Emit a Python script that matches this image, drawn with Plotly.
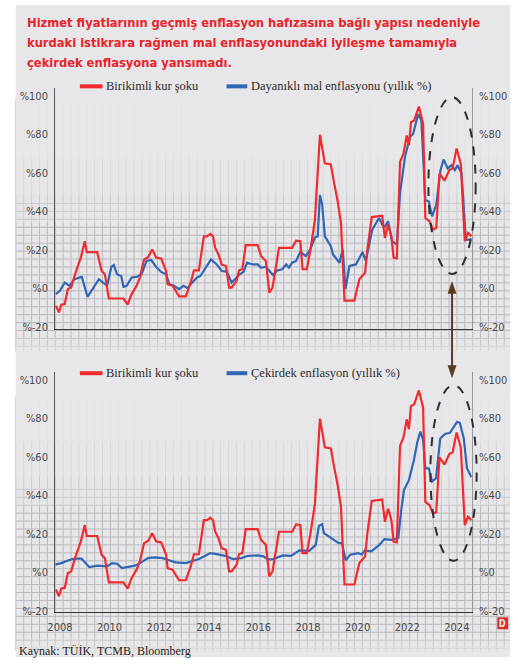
import plotly.graph_objects as go

# Birikimli kur şoku (yıllık %), iki panelde de aynı seri
red_x = [2007.83, 2007.96, 2008.05, 2008.19, 2008.32, 2008.45, 2008.65, 2008.84, 2009.0, 2009.08,
         2009.5, 2009.68, 2009.81, 2009.97, 2010.56, 2010.73, 2010.89, 2011.09, 2011.22, 2011.39,
         2011.55, 2011.72, 2011.88, 2012.08, 2012.28, 2012.34, 2012.54, 2012.8, 2013.07, 2013.27,
         2013.4, 2013.6, 2013.8, 2013.93, 2014.06, 2014.17, 2014.26, 2014.39, 2014.52, 2014.69,
         2014.82, 2014.92, 2015.12, 2015.22, 2015.35, 2015.49, 2015.97, 2016.11, 2016.3, 2016.44,
         2016.57, 2016.83, 2017.36, 2017.52, 2017.69, 2017.78, 2017.95, 2018.09, 2018.28, 2018.48,
         2018.68, 2018.92, 2019.05, 2019.2, 2019.33, 2019.47, 2019.87, 2020.07, 2020.3, 2020.4,
         2020.57, 2020.99, 2021.1, 2021.23, 2021.36, 2021.45, 2021.58, 2021.71, 2021.85, 2021.98,
         2022.07, 2022.15, 2022.28, 2022.47, 2022.64, 2022.73, 2022.9, 2023.04, 2023.17, 2023.3,
         2023.5, 2023.7, 2023.83, 2023.99, 2024.16, 2024.32, 2024.45, 2024.6]
red_y = [-8.9, -12.4, -8.4, -8.1, -0.3, 0.5, 9.1, 16, 24.6, 18.9,
         18.9, 9.1, 7.4, -5.2, -5.2, -8.4, -2.9, 1.4, 5.7, 15.1,
         16.3, 20.3, 16, 15.6, 9.1, 2.2, 1.4, -4.1, -4.1, 3,
         9.4, 9.4, 27.1, 27.1, 28.4, 27.1, 21.1, 17.7, 12.5, 11.7,
         0.5, 0.5, 4, 9.4, 10, 22.5, 22.5, 16.8, 14.3, -2.1,
         0.5, 21.1, 21.1, 24.9, 24.6, 10, 10, 19.4, 35.7, 79.9,
         65, 64.4, 55, 45, 34, -6.3, -6.3, 4.8, 8.2, 21.1,
         37.1, 37.8, 26.3, 33.1, 27.1, 16, 15.6, 65.8, 70.1, 79.5,
         74.4, 86.4, 87.3, 94.5, 85.6, 36.6, 34.9, 30.6, 31.4, 59.8,
         56, 61.5, 62.4, 72.7, 64.9, 24.6, 28.9, 27.1]

# Dayanıklı mal enflasyonu (yıllık %)
dur_x = [2007.83, 2008.0, 2008.19, 2008.38, 2008.58, 2008.88, 2009.11, 2009.31, 2009.57, 2009.9,
         2010.07, 2010.17, 2010.3, 2010.47, 2010.56, 2010.69, 2010.89, 2011.09, 2011.29, 2011.49,
         2011.68, 2011.88, 2012.08, 2012.28, 2012.41, 2012.6, 2012.8, 2012.98, 2013.14, 2013.33,
         2013.53, 2013.66, 2014.09, 2014.32, 2014.52, 2014.72, 2014.92, 2015.25, 2015.41, 2015.54,
         2015.77, 2015.97, 2016.11, 2016.3, 2016.59, 2016.76, 2016.96, 2017.12, 2017.23, 2017.36,
         2017.52, 2017.69, 2017.91, 2018.09, 2018.28, 2018.39, 2018.48, 2018.57, 2018.68, 2018.92,
         2019.01, 2019.27, 2019.4, 2019.51, 2019.67, 2019.93, 2020.2, 2020.33, 2020.59, 2020.86,
         2021.06, 2021.23, 2021.39, 2021.58, 2021.71, 2021.91, 2022.11, 2022.24, 2022.44, 2022.57,
         2022.73, 2022.87, 2023.0, 2023.17, 2023.34, 2023.47, 2023.63, 2023.79, 2023.92, 2024.03,
         2024.19, 2024.36, 2024.53, 2024.6]
dur_y = [-2.9, -1.2, 3.1, 1.4, 4.8, 6, -4.3, -0.3, 4.8, 1.4,
         11.2, 12.2, 7.4, 6.5, 0.9, 1.4, 5.7, 6, 7.4, 14.3,
         14.8, 11.2, 8.6, 7.4, 2.2, 1.4, -0.3, 1.4, 0.2, 3.1,
         5.7, 6.5, 15.1, 12.5, 9.1, 8.8, 3.1, 7.4, 8.8, 13.4,
         12.5, 12.5, 10.8, 11.3, 7, 9.4, 10, 12.5, 10.8, 13.4,
         14.3, 19.1, 16.8, 20.3, 26.6, 27.1, 48.6, 43.5, 27.1, 22,
         17.7, 13.4, 20.3, -0.3, 11.7, 12.5, 18.9, 14.3, 30.6, 36.6,
         31.4, 34.9, 24.6, 22.8, 49.5, 68.4, 78.7, 80.4, 90.7, 87.3,
         46, 45.2, 37.5, 43.5, 61.5, 67, 62.4, 64.1, 61.5, 64.1,
         59.8, 25.4, 25.4, 25.8]

# Çekirdek enflasyon (yıllık %)
core_x = [2007.81, 2008.05, 2008.32, 2008.58, 2008.87, 2009.18, 2009.5, 2009.9, 2010.1, 2010.3,
          2010.5, 2010.76, 2011.02, 2011.22, 2011.55, 2011.82, 2012.15, 2012.41, 2012.67, 2013.07,
          2013.33, 2013.6, 2013.86, 2014.06, 2014.32, 2014.65, 2014.98, 2015.31, 2015.58, 2015.97,
          2016.2, 2016.4, 2016.59, 2016.99, 2017.32, 2017.65, 2018.05, 2018.31, 2018.44, 2018.57,
          2018.64, 2018.9, 2019.24, 2019.37, 2019.52, 2019.7, 2020.03, 2020.16, 2020.29, 2020.55,
          2020.88, 2021.08, 2021.35, 2021.64, 2021.74, 2021.87, 2022.07, 2022.27, 2022.41, 2022.53,
          2022.64, 2022.73, 2022.87, 2023.0, 2023.16, 2023.33, 2023.52, 2023.72, 2023.88, 2024.01,
          2024.12, 2024.28, 2024.41, 2024.59]
core_y = [4, 4.8, 6.2, 7.1, 7.1, 2.7, 3.5, 3.1, 4.8, 4.5,
          2.2, 2.7, 3.5, 4.8, 7.4, 7.8, 7.4, 6.2, 5.2, 4.8,
          5.7, 6.9, 8.6, 10, 9.5, 8.6, 6.9, 7.4, 8.6, 8.8,
          8.3, 6.6, 6.9, 8.8, 8.6, 11.4, 11.2, 14.3, 24.2, 25,
          20.4, 18.3, 15.2, 15.2, 6.2, 9.2, 10, 9.2, 11.4, 10.9,
          14.3, 17.3, 16.9, 17.8, 30.7, 42.8, 48, 58.4, 67.9, 73.1,
          68.8, 54, 54, 47.2, 48.9, 69.6, 71.9, 72.5, 75.3, 78.2,
          77.7, 69.6, 54, 49.4]

y_ticks = [-20, 0, 20, 40, 60, 80, 100]
y_labels = ["%-20", "%0", "%20", "%40", "%60", "%80", "%100"]
x_ticks = [2008, 2010, 2012, 2014, 2016, 2018, 2020, 2022, 2024]
x_labels = [str(v) for v in x_ticks]

title_lines = ["Hizmet fiyatlarının geçmiş enflasyon hafızasına bağlı yapısı nedeniyle",
               "kurdaki istikrara rağmen mal enflasyonundaki iyileşme tamamıyla",
               "çekirdek enflasyona yansımadı."]
red_name = "Birikimli kur şoku"
dur_name = "Dayanıklı mal enflasyonu (yıllık %)"
core_name = "Çekirdek enflasyon (yıllık %)"
source = "Kaynak: TÜİK, TCMB, Bloomberg"

RED = "#ee2b2f"
BLUE = "#2f66b6"
BG = "#e7e7e9"
GRID = "#b9b9bf"
W, H = 518, 669


def px(x):
    return x / W


def py(y):
    return 1 - y / H


def grid_path(x0, x1, yv0, yh0, y1, step=8):
    # graph paper lines: vertical ones from yv0, horizontal ones from yh0
    parts = []
    x = x0
    while x <= x1:
        parts.append(f"M{px(x):.5f},{py(yv0):.5f}L{px(x):.5f},{py(y1):.5f}")
        x += step
    y = yh0
    while y <= y1:
        parts.append(f"M{px(x0):.5f},{py(y):.5f}L{px(x1):.5f},{py(y):.5f}")
        y += step
    return "".join(parts)


def fade(y0, y1, a):
    return dict(type="rect", xref="paper", yref="paper", layer="below",
                x0=px(8), x1=px(510), y0=py(y0), y1=py(y1),
                fillcolor=f"rgba(231,231,233,{a})", line_width=0)


fig = go.Figure()
# top panel
fig.add_trace(go.Scatter(x=dur_x, y=dur_y, mode="lines", line=dict(color=BLUE, width=2.2),
                         xaxis="x", yaxis="y", showlegend=False))
fig.add_trace(go.Scatter(x=red_x, y=red_y, mode="lines", line=dict(color=RED, width=2.2),
                         xaxis="x", yaxis="y2", showlegend=False))
# bottom panel
fig.add_trace(go.Scatter(x=core_x, y=core_y, mode="lines", line=dict(color=BLUE, width=2.2),
                         xaxis="x2", yaxis="y3", showlegend=False))
fig.add_trace(go.Scatter(x=red_x, y=red_y, mode="lines", line=dict(color=RED, width=2.2),
                         xaxis="x2", yaxis="y4", showlegend=False))

XR = [2007.81, 2024.6]
YR = [-20.8, 104]
tickfont = dict(family="DejaVu Sans Condensed, Roboto, sans-serif", size=11, color="#4a4a4a")
yax = dict(range=YR, tickvals=y_ticks, ticktext=y_labels, showgrid=False, zeroline=False,
           showline=True, linewidth=1.2, ticks="", tickfont=tickfont, ticklabelstandoff=4,
           fixedrange=True)
xax = dict(range=XR, showgrid=False, zeroline=False, showline=True, linecolor="#333",
           linewidth=1.2, ticks="", fixedrange=True, domain=[px(48), px(471)])

fig.update_layout(
    width=W, height=H, autosize=False,
    margin=dict(l=0, r=0, t=0, b=0),
    paper_bgcolor="white", plot_bgcolor="rgba(0,0,0,0)",
    xaxis=dict(xax, anchor="y", showticklabels=False),
    yaxis=dict(yax, domain=[py(331), py(89)], anchor="x", linecolor="#555"),
    yaxis2=dict(yax, overlaying="y", side="right", anchor="x", linecolor="#999"),
    xaxis2=dict(xax, anchor="y3", tickvals=x_ticks, ticktext=x_labels,
                tickfont=tickfont, ticklabelstandoff=4),
    yaxis3=dict(yax, domain=[py(617), py(375)], anchor="x2", linecolor="#555"),
    yaxis4=dict(yax, overlaying="y3", side="right", anchor="x2", linecolor="#999"),
)

shapes = [dict(type="rect", xref="paper", yref="paper", layer="below",
               x0=px(8), x1=px(510), y0=py(662), y1=py(5), fillcolor=BG, line_width=0)]
# graph paper background, fading out towards the top of each panel
shapes.append(dict(type="path", xref="paper", yref="paper", layer="below",
                   path=grid_path(8, 510, 100, 205, 354), line=dict(color=GRID, width=1)))
shapes.append(dict(type="path", xref="paper", yref="paper", layer="below",
                   path=grid_path(8, 510, 400, 493, 656), line=dict(color=GRID, width=1)))
shapes += [fade(88, 225, 0.4), fade(88, 195, 0.5), fade(88, 160, 0.75),
           fade(340, 356, 0.3), fade(348, 356, 0.45),
           fade(372, 510, 0.4), fade(372, 480, 0.5), fade(372, 445, 0.75),
           fade(642, 658, 0.3), fade(650, 658, 0.45)]

# legend swatches
for y0 in (87, 376):
    shapes.append(dict(type="line", xref="paper", yref="paper", x0=px(73), x1=px(96),
                       y0=py(y0), y1=py(y0), line=dict(color=RED, width=4)))
    shapes.append(dict(type="line", xref="paper", yref="paper", x0=px(222), x1=px(243),
                       y0=py(y0), y1=py(y0), line=dict(color=BLUE, width=4)))

# dashed ellipses and the arrow between them
for (x0, y0, x1, y1) in [(427, 98, 475, 276), (429, 388, 476, 565)]:
    shapes.append(dict(type="circle", xref="paper", yref="paper",
                       x0=px(x0), x1=px(x1), y0=py(y1), y1=py(y0),
                       line=dict(color="#2e2e2e", width=2, dash="dash")))
ARROW = "#5a3b1f"
shapes.append(dict(type="line", xref="paper", yref="paper", x0=px(451), x1=px(451),
                   y0=py(292), y1=py(372), line=dict(color=ARROW, width=2)))
for tip, base in [(283, 296), (381, 368)]:
    shapes.append(dict(type="path", xref="paper", yref="paper", fillcolor=ARROW, line_width=0,
                       path=f"M{px(451)},{py(tip)}L{px(446.5)},{py(base)}L{px(455.5)},{py(base)}Z"))
# logo box
shapes.append(dict(type="rect", xref="paper", yref="paper", x0=px(497), x1=px(508),
                   y0=py(634), y1=py(622), fillcolor="#e3262b", line_width=0))
fig.update_layout(shapes=shapes)

annotations = []
title_font = dict(family="DejaVu Sans Condensed, Roboto, sans-serif", size=12.8, color="#e8232a")
for i, line in enumerate(title_lines):
    annotations.append(dict(text=f"<b>{line}</b>", x=px(17), y=py(23 + 20 * i), xref="paper",
                            yref="paper", xanchor="left", yanchor="middle", showarrow=False,
                            font=title_font))
serif = dict(family="Liberation Serif, DejaVu Serif, serif", size=12.5, color="#2b2b2b")
for y0, blue_name in [(87, dur_name), (376, core_name)]:
    annotations.append(dict(text=red_name, x=px(98), y=py(y0), xref="paper", yref="paper",
                            xanchor="left", yanchor="middle", showarrow=False, font=serif))
    annotations.append(dict(text=blue_name, x=px(245), y=py(y0), xref="paper", yref="paper",
                            xanchor="left", yanchor="middle", showarrow=False, font=serif))
annotations.append(dict(text=source, x=px(9), y=py(656), xref="paper", yref="paper",
                        xanchor="left", yanchor="middle", showarrow=False,
                        font=dict(serif, size=12, color="#1e1e1e")))
annotations.append(dict(text="<b>D</b>", x=px(502.5), y=py(628), xref="paper", yref="paper",
                        xanchor="center", yanchor="middle", showarrow=False,
                        font=dict(family="Roboto, sans-serif", size=10, color="white")))
fig.update_layout(annotations=annotations)

# drop the page's default body margin so the figure sits at the window's corner
fig.write_html("out.html", config={"displayModeBar": False},
               post_script="document.body.style.margin='0';")
